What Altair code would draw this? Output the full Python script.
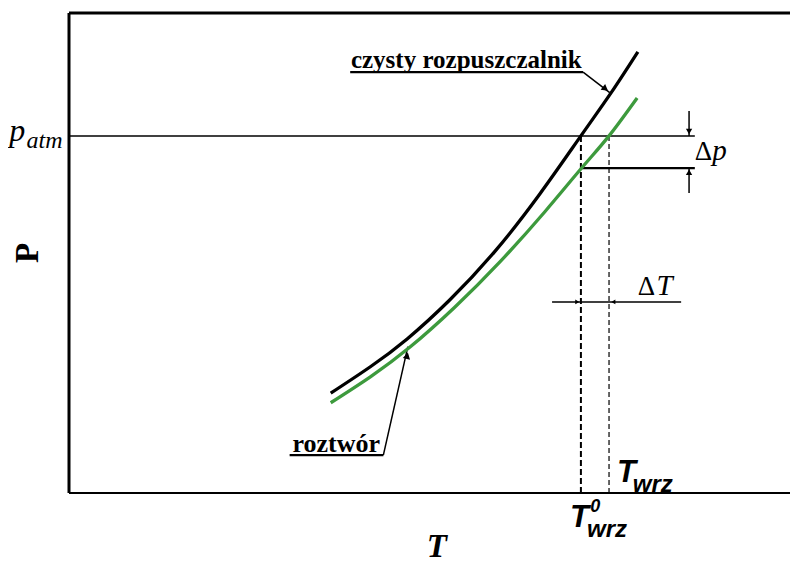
import altair as alt
import pandas as pd

# ---- curve data (arbitrary units: T along x, P along y, both 0..100) ----
T_black = [36.3, 41.8, 46.9, 52.8, 59.1, 65.3, 71.0, 75.2, 78.9]
P_black = [20.8, 26.3, 32.1, 40.2, 50.4, 62.3, 74.4, 83.4, 91.9]
T_green = [36.3, 41.8, 47.3, 53.5, 59.8, 66.0, 71.1, 74.9, 78.8]
P_green = [18.8, 24.2, 30.4, 38.7, 48.2, 58.6, 67.7, 74.4, 82.3]
series_names = ["czysty rozpuszczalnik", "roztwór"]
series_colors = ["#000000", "#3d9a3d"]

P_ATM = 74.4     # atmospheric pressure level
P_SOL = 67.7     # solution vapour pressure at T0
T_0 = 71.0       # boiling point of pure solvent
T_WRZ = 74.9     # boiling point of solution
P_DT = 39.8      # level of the Delta T marker
T_DP = 86.0      # position of the Delta p marker
T_END = 86.8     # end of horizontal reference lines

xs = alt.Scale(domain=[0, 100], nice=False, zero=False)
ys = alt.Scale(domain=[0, 100], nice=False, zero=False)


def X(f="T"):
    return alt.X(f"{f}:Q", scale=xs, axis=None)


def Y(f="P"):
    return alt.Y(f"{f}:Q", scale=ys, axis=None)


# ---- curves ----
rows = []
for name, Ts, Ps in [(series_names[0], T_black, P_black), (series_names[1], T_green, P_green)]:
    for i, (t, p) in enumerate(zip(Ts, Ps)):
        rows.append({"T": t, "P": p, "s": name, "i": i})
curves_df = pd.DataFrame(rows)
curves = alt.Chart(curves_df).mark_line(strokeWidth=3.3, interpolate="natural").encode(
    x=X(), y=Y(),
    color=alt.Color("s:N", scale=alt.Scale(domain=series_names, range=series_colors), legend=None),
    order=alt.Order("i:Q"),
    detail="s:N",
)


def rules(segs, width, dash=None):
    df = pd.DataFrame(segs, columns=["T", "P", "T2", "P2"])
    kw = {"strokeWidth": width, "color": "black"}
    if dash:
        kw["strokeDash"] = dash
    return alt.Chart(df).mark_rule(**kw).encode(
        x=X(), y=Y(), x2=alt.X2("T2:Q"), y2=alt.Y2("P2:Q")
    )


frame = rules([(0, 0, 0, 100), (0, 100, 100, 100)], 3)
bottom = rules([(0, 0, 100, 0)], 2)
thin = rules([
    (0, P_ATM, T_END, P_ATM),
    (T_DP, 79.6, T_DP, P_ATM),
    (T_DP, 62.5, T_DP, P_SOL),
    (67.0, P_DT, 84.9, P_DT),
    (71.3, 87.7, 75.0, 83.4),
    (43.6, 7.9, 47.0, 30.5),
], 1.5)
thick = rules([
    (T_0, P_SOL, T_END, P_SOL),
    (39.0, 87.7, 71.3, 87.7),
    (30.6, 7.9, 43.6, 7.9),
], 2.2)
dash0 = rules([(T_0, 0, T_0, P_ATM)], 2, [6, 3])
dash1 = rules([(T_WRZ, 0, T_WRZ, P_ATM)], 1.2, [5, 3])

# ---- arrowheads ----
heads_df = pd.DataFrame([
    {"T": 74.4, "P": 84.2, "shape": "triangle-right", "ang": 38, "sz": 55},
    {"T": 46.9, "P": 28.6, "shape": "triangle-right", "ang": 283, "sz": 55},
    {"T": T_DP, "P": 75.3, "shape": "triangle-down", "ang": 0, "sz": 40},
    {"T": T_DP, "P": 66.8, "shape": "triangle-up", "ang": 0, "sz": 40},
    {"T": 70.5, "P": P_DT, "shape": "triangle-right", "ang": 0, "sz": 22},
    {"T": 75.5, "P": P_DT, "shape": "triangle-left", "ang": 0, "sz": 22},
])
heads = alt.Chart(heads_df).mark_point(filled=True, opacity=1, color="black").encode(
    x=X(), y=Y(),
    shape=alt.Shape("shape:N", scale=None),
    angle=alt.Angle("ang:Q", scale=None),
    size=alt.Size("sz:Q", scale=None),
)


def texts(items, size, font="Liberation Serif", style="normal", weight="normal",
          align="left", baseline="alphabetic", angle=0):
    df = pd.DataFrame(items, columns=["label", "T", "P"])
    return alt.Chart(df).mark_text(
        font=font, fontSize=size, fontStyle=style, fontWeight=weight,
        align=align, baseline=baseline, angle=angle, color="black",
    ).encode(x=X(), y=Y(), text="label:N")


SANS = "Liberation Sans"
labels = [
    texts([("czysty rozpuszczalnik", 39.1, 88.6)], 25, weight="bold"),
    texts([("roztwór", 31.0, 8.6)], 26, weight="bold"),
    texts([("P", -5.7, 50)], 33, weight="bold", align="center", baseline="middle", angle=270),
    texts([("T", 51.0, -13.4)], 33, style="italic", weight="bold", align="center"),
    texts([("p", -8.3, 73.4)], 32, style="italic"),
    texts([("atm", -5.9, 71.8)], 24, style="italic"),
    texts([("Δ", 86.8, 69.4), ("Δ", 78.9, 41.2)], 27),
    texts([("p", 89.2, 69.4), ("T", 81.5, 41.2)], 29, style="italic"),
    texts([("T", 69.5, -7.1), ("T", 76.0, 2.3)], 31, font=SANS, style="italic", weight="bold"),
    texts([("0", 72.3, -4.0)], 18, font=SANS, style="italic", weight="bold"),
    texts([("wrz", 71.85, -9.2), ("wrz", 78.2, 0.2)], 24, font=SANS, style="italic", weight="bold"),
]

chart = alt.layer(
    frame, bottom, thin, thick, dash0, dash1, curves, heads, *labels
).properties(
    width=721, height=480,
    padding={"left": 61, "top": 5, "right": 0, "bottom": 71},
    autosize=alt.AutoSizeParams(type="none"),
).configure_view(strokeWidth=0)

chart.save("out.html", embed_options={"renderer": "svg", "actions": False})
